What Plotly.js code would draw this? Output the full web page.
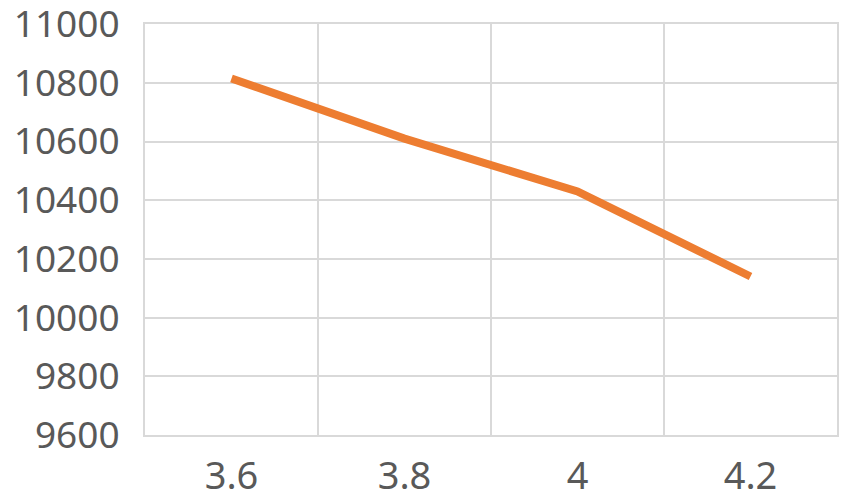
<!DOCTYPE html>
<html>
<head>
<meta charset="utf-8">
<script src="https://cdn.plot.ly/plotly-3.0.1.min.js"></script>
<style>html,body{margin:0;padding:0;background:#fff;}#chart{width:850px;height:502px;}</style>
</head>
<body>
<div id="chart"></div>
<script>
const categories = ["3.6", "3.8", "4", "4.2"];
const values = [10815, 10610, 10430, 10140];
const yTicks = [9600, 9800, 10000, 10200, 10400, 10600, 10800, 11000];

const trace = {
  x: categories,
  y: values,
  type: 'scatter',
  mode: 'lines',
  line: {color: '#ED7D31', width: 8},
  hoverinfo: 'x+y'
};

const layout = {
  width: 850,
  height: 502,
  margin: {l: 145, r: 13, t: 24, b: 67},
  paper_bgcolor: '#ffffff',
  plot_bgcolor: '#ffffff',
  showlegend: false,
  font: {family: 'Noto Sans, Arial, sans-serif', color: '#595959'},
  xaxis: {
    type: 'category',
    range: [-0.5, 3.5],
    tickson: 'boundaries',
    showgrid: true,
    gridcolor: '#d9d9d9',
    gridwidth: 2,
    showline: true,
    linecolor: '#d9d9d9',
    linewidth: 2,
    mirror: true,
    ticks: '',
    ticklabelstandoff: 6,
    tickfont: {size: 38, color: '#595959'},
    ticklabeloverflow: 'allow',
    zeroline: false,
    fixedrange: true
  },
  yaxis: {
    range: [9600, 11000.5],
    tickvals: yTicks,
    ticktext: yTicks.map(String),
    showgrid: true,
    gridcolor: '#d9d9d9',
    gridwidth: 2,
    showline: true,
    linecolor: '#d9d9d9',
    linewidth: 2,
    mirror: true,
    ticks: 'outside',
    ticklen: 16,
    tickcolor: 'rgba(0,0,0,0)',
    tickfont: {size: 37, color: '#595959'},
    ticklabeloverflow: 'allow',
    zeroline: false,
    fixedrange: true
  }
};

Plotly.newPlot('chart', [trace], layout, {displayModeBar: false, staticPlot: true});
</script>
</body>
</html>
